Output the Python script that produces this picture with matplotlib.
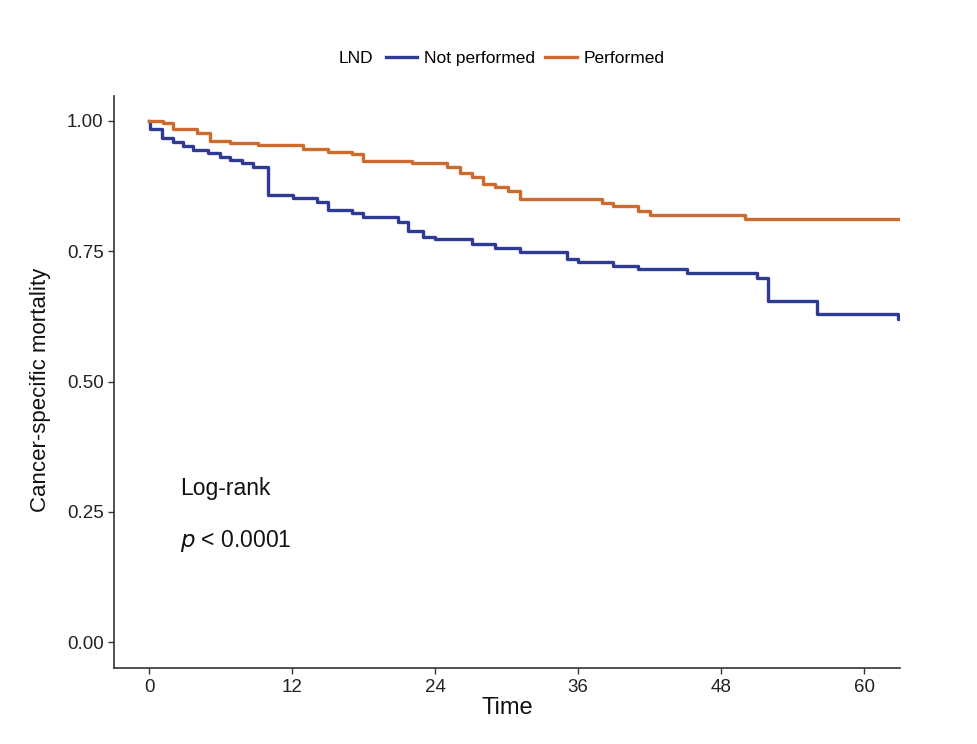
import matplotlib
matplotlib.use("Agg")
import matplotlib.pyplot as plt
from matplotlib.offsetbox import HPacker

plt.rcParams['font.family'] = ['Liberation Sans', 'DejaVu Sans']

# Kaplan-Meier steps (time in months, survival)
t_not = [0, 0.08, 1.07, 2.0, 2.85, 3.7, 4.95, 5.96, 6.8, 7.8, 8.73, 10.0, 12.08, 14.1, 15.02,
         17.03, 17.96, 20.89, 21.73, 22.99, 24.0, 27.1, 29.03, 31.13, 35.08, 36.0, 38.94,
         41.03, 45.15, 51.02, 51.94, 56.05, 62.85, 63.0]
s_not = [1.0, 0.985, 0.967, 0.960, 0.952, 0.944, 0.939, 0.931, 0.925, 0.919, 0.912, 0.858, 0.852,
         0.845, 0.829, 0.823, 0.815, 0.807, 0.788, 0.778, 0.773, 0.763, 0.757, 0.749, 0.736,
         0.730, 0.722, 0.715, 0.708, 0.698, 0.655, 0.629, 0.620, 0.620]

t_perf = [0, 1.17, 2.0, 4.03, 5.12, 6.8, 9.15, 12.92, 15.02, 17.03, 17.96, 22.07, 25.0, 26.1,
          27.1, 28.03, 29.03, 30.12, 31.13, 38.01, 38.94, 41.03, 42.04, 50.01, 63.0]
s_perf = [1.0, 0.996, 0.984, 0.976, 0.962, 0.958, 0.953, 0.946, 0.941, 0.937, 0.924, 0.919,
          0.911, 0.900, 0.893, 0.880, 0.874, 0.866, 0.850, 0.842, 0.836, 0.828, 0.820, 0.811, 0.811]

x_ticks = [0, 12, 24, 36, 48, 60]
y_ticks = [0.00, 0.25, 0.50, 0.75, 1.00]

col_not = "#2F3A94"
col_perf = "#CD6A2E"
axis_col = "#333333"

fig = plt.figure(figsize=(9.78, 7.44), dpi=100)
ax = fig.add_axes([0.1166, 0.102, 0.8034, 0.769])

ax.step(t_not, s_not, where='post', color=col_not, lw=2.4, label='Not performed')
ax.step(t_perf, s_perf, where='post', color=col_perf, lw=2.4, label='Performed')

ax.set_xlim(-2.95, 63)
ax.set_ylim(-0.05, 1.048)
ax.set_xticks(x_ticks)
ax.set_yticks(y_ticks)
ax.set_yticklabels([f"{v:.2f}" for v in y_ticks])

for side in ['top', 'right']:
    ax.spines[side].set_visible(False)
for side in ['left', 'bottom']:
    ax.spines[side].set_color(axis_col)
    ax.spines[side].set_linewidth(1.2)
ax.tick_params(axis='both', colors=axis_col, labelcolor='#222222', labelsize=13.5,
               length=4, width=1.0)

ax.set_xlabel('Time', fontsize=17, color='#111111')
ax.xaxis.set_label_coords(0.5, -0.05)
ax.set_ylabel('Cancer-specific mortality', fontsize=16, color='#111111')
ax.yaxis.set_label_coords(-0.08, 0.487)

ax.text(2.6, 0.294, 'Log-rank', fontsize=16.5, color='#111111', va='center', ha='left')
ax.text(2.6, 0.194, r'$p$ < 0.0001', fontsize=16.5, color='#111111', va='center', ha='left')

leg = fig.legend(loc='center', bbox_to_anchor=(0.513, 0.921), ncol=2, frameon=False,
                 title='LND', fontsize=12.5, title_fontsize=12.5,
                 handlelength=1.8, handletextpad=0.4, columnspacing=0.6)
# put the title on the same row as the keys
box = leg._legend_box
title_box = box.get_children()[0]
rows = box.get_children()[1]
leg._legend_box = HPacker(pad=0, sep=9, children=[title_box, rows], align='center')
leg._legend_box.set_figure(fig)
leg._legend_box.set_offset(box._offset)

fig.savefig('out.png', dpi=100)
